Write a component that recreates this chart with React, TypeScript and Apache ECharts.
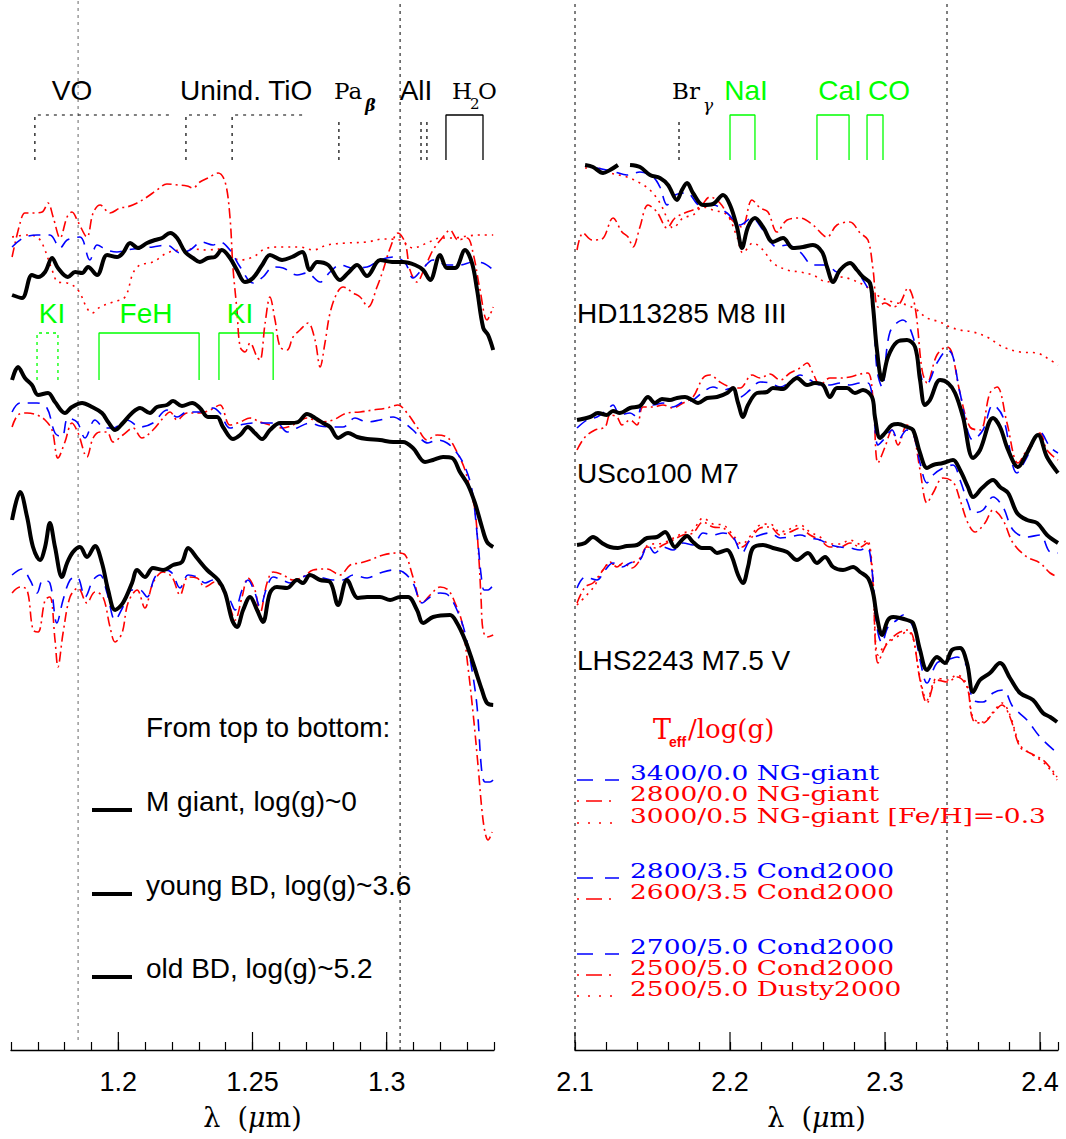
import React, { useEffect, useRef } from "react";
import * as echarts from "echarts";

// ---------- axis ticks ----------
const LEFT_MAJOR = [1.2, 1.25, 1.3];
const LEFT_TICK_LABELS = ["1.2", "1.25", "1.3"];
const RIGHT_MAJOR = [2.1, 2.2, 2.3, 2.4];
const RIGHT_TICK_LABELS = ["2.1", "2.2", "2.3", "2.4"];

// reference (dotted) wavelengths
const LEFT_REF = [1.185, 1.305];
const RIGHT_REF = [2.1, 2.34];

// feature bands (wavelength, micron)
const VO_BAND = [1.1689, 1.22];
const UNIND_BAND = [1.2252, 1.2372];
const TIO_BAND = [1.2424, 1.2688];
const PAB_LINE = [1.2822];
const ALI_LINES = [1.3128, 1.315];
const H2O_BAND = [1.3221, 1.3359];
const KI_DOUBLET_1 = [1.1697, 1.1775];
const FEH_BAND = [1.1928, 1.2301];
const KI_DOUBLET_2 = [1.2375, 1.2577];
const BRG_LINE = [2.1671];
const NAI_BAND = [2.2, 2.2161];
const CAI_BAND = [2.2561, 2.2768];
const CO_BAND = [2.2884, 2.2987];

// ---------- J band spectra (normalised flux + offset) ----------
const L_GIANT_OBS = [[1.1604,7.55],[1.1641,7.52],[1.1678,7.75],[1.1701,7.73],[1.1727,7.78],[1.1753,7.92],[1.1775,7.82],[1.1812,7.73],[1.1839,7.78],[1.1865,7.77],[1.1887,7.83],[1.1921,7.75],[1.1958,7.95],[1.1995,7.93],[1.2017,7.97],[1.2044,8.07],[1.2073,8.02],[1.2107,8.07],[1.2137,8.10],[1.2163,8.12],[1.2193,8.17],[1.2219,8.12],[1.2249,7.98],[1.2278,7.92],[1.2304,7.88],[1.2334,7.92],[1.2360,7.93],[1.2386,8.00],[1.2416,7.92],[1.2442,7.80],[1.2472,7.68],[1.2502,7.72],[1.2536,7.85],[1.2565,7.95],[1.2610,7.90],[1.2647,7.93],[1.2685,7.98],[1.2714,7.80],[1.2741,7.88],[1.2782,7.85],[1.2826,7.70],[1.2856,7.77],[1.2890,7.85],[1.2927,7.74],[1.2976,7.90],[1.3020,7.88],[1.3061,7.88],[1.3106,7.85],[1.3136,7.80],[1.3162,7.70],[1.3199,7.95],[1.3225,7.82],[1.3255,7.82],[1.3292,8.00],[1.3318,7.87],[1.3337,7.60],[1.3360,7.22],[1.3378,7.15],[1.3397,7.00]];
const L_GIANT_NG3400 = [[1.1604,8.03],[1.1645,8.12],[1.1697,8.15],[1.1745,8.15],[1.1783,8.02],[1.1809,8.10],[1.1857,8.13],[1.1894,7.90],[1.1921,8.05],[1.1958,8.00],[1.1995,7.98],[1.2032,8.00],[1.2081,8.02],[1.2129,8.03],[1.2181,8.05],[1.2230,7.97],[1.2267,8.00],[1.2312,8.08],[1.2353,8.05],[1.2379,8.08],[1.2416,8.00],[1.2454,7.83],[1.2502,7.67],[1.2539,7.73],[1.2577,7.83],[1.2614,7.82],[1.2666,7.75],[1.2703,7.77],[1.2752,7.68],[1.2789,7.78],[1.2826,7.85],[1.2875,7.82],[1.2927,7.83],[1.2975,7.90],[1.3024,7.93],[1.3069,7.87],[1.3098,7.72],[1.3136,7.82],[1.3173,7.90],[1.3225,7.85],[1.3273,7.85],[1.3322,7.88],[1.3359,7.87],[1.3397,7.80]];
const L_GIANT_NG2800 = [[1.1604,7.93],[1.1634,8.27],[1.1652,8.37],[1.1682,8.37],[1.1716,8.38],[1.1738,8.47],[1.1757,8.33],[1.1783,8.12],[1.1809,8.33],[1.1827,8.38],[1.1850,8.28],[1.1883,8.13],[1.1906,8.37],[1.1932,8.45],[1.1969,8.37],[1.2006,8.42],[1.2032,8.43],[1.2070,8.47],[1.2107,8.53],[1.2144,8.60],[1.2181,8.66],[1.2222,8.65],[1.2256,8.64],[1.2278,8.62],[1.2304,8.68],[1.2334,8.72],[1.2372,8.77],[1.2398,8.68],[1.2416,8.33],[1.2427,7.83],[1.2442,7.40],[1.2454,7.03],[1.2472,6.98],[1.2491,7.07],[1.2517,6.93],[1.2528,6.90],[1.2547,7.27],[1.2565,7.53],[1.2584,7.30],[1.2603,7.03],[1.2629,7.00],[1.2651,7.13],[1.2677,7.20],[1.2707,7.27],[1.2733,7.10],[1.2752,6.83],[1.2770,7.07],[1.2789,7.37],[1.2815,7.57],[1.2838,7.63],[1.2875,7.57],[1.2901,7.53],[1.2931,7.43],[1.2964,7.63],[1.2987,7.80],[1.3013,8.02],[1.3042,8.17],[1.3069,8.07],[1.3087,7.80],[1.3113,7.68],[1.3143,7.83],[1.3173,8.00],[1.3210,8.13],[1.3236,8.20],[1.3266,8.10],[1.3300,8.12],[1.3322,7.97],[1.3348,7.60],[1.3374,7.30],[1.3397,7.43]];
const L_GIANT_NG3000 = [[1.1604,8.13],[1.1660,8.15],[1.1697,8.13],[1.1719,8.05],[1.1753,7.80],[1.1775,7.68],[1.1809,7.67],[1.1839,7.63],[1.1857,7.57],[1.1883,7.42],[1.1902,7.37],[1.1932,7.43],[1.1980,7.48],[1.2025,7.53],[1.2055,7.77],[1.2081,7.85],[1.2129,7.88],[1.2181,7.97],[1.2230,8.00],[1.2278,8.01],[1.2331,8.00],[1.2379,8.01],[1.2416,7.94],[1.2454,7.90],[1.2502,7.93],[1.2554,8.02],[1.2614,8.03],[1.2677,8.03],[1.2726,8.00],[1.2778,8.05],[1.2852,8.07],[1.2927,8.08],[1.2987,8.11],[1.3050,8.10],[1.3098,8.02],[1.3151,8.07],[1.3199,8.12],[1.3247,8.12],[1.3300,8.14],[1.3348,8.15],[1.3397,8.15]];

const L_YOUNG_OBS = [[1.1604,6.70],[1.1626,6.83],[1.1652,6.72],[1.1678,6.65],[1.1701,6.55],[1.1738,6.57],[1.1764,6.48],[1.1801,6.37],[1.1827,6.43],[1.1865,6.47],[1.1902,6.43],[1.1939,6.37],[1.1962,6.28],[1.1988,6.20],[1.2017,6.27],[1.2051,6.37],[1.2081,6.42],[1.2118,6.37],[1.2144,6.43],[1.2181,6.45],[1.2204,6.49],[1.2237,6.44],[1.2275,6.47],[1.2304,6.42],[1.2334,6.33],[1.2368,6.33],[1.2390,6.23],[1.2427,6.11],[1.2454,6.15],[1.2483,6.23],[1.2509,6.17],[1.2536,6.11],[1.2565,6.20],[1.2603,6.27],[1.2640,6.27],[1.2670,6.28],[1.2703,6.36],[1.2733,6.32],[1.2763,6.27],[1.2789,6.23],[1.2819,6.12],[1.2856,6.17],[1.2890,6.13],[1.2927,6.11],[1.2975,6.10],[1.3024,6.08],[1.3061,6.08],[1.3098,6.02],[1.3143,5.88],[1.3173,5.90],[1.3210,5.93],[1.3244,5.92],[1.3273,5.78],[1.3303,5.65],[1.3329,5.47],[1.3355,5.23],[1.3374,5.08],[1.3397,5.03]];
const L_YOUNG_C2800 = [[1.1604,6.38],[1.1634,6.47],[1.1697,6.47],[1.1734,6.42],[1.1764,6.17],[1.1790,6.13],[1.1812,6.32],[1.1846,6.28],[1.1876,6.12],[1.1913,6.30],[1.1950,6.22],[1.1980,6.22],[1.2032,6.30],[1.2081,6.23],[1.2129,6.27],[1.2181,6.40],[1.2219,6.33],[1.2256,6.38],[1.2304,6.38],[1.2353,6.42],[1.2379,6.37],[1.2416,6.22],[1.2454,6.25],[1.2502,6.27],[1.2554,6.27],[1.2591,6.27],[1.2629,6.18],[1.2666,6.22],[1.2714,6.27],[1.2752,6.24],[1.2800,6.23],[1.2837,6.23],[1.2882,6.32],[1.2927,6.28],[1.2975,6.30],[1.3024,6.33],[1.3061,6.28],[1.3098,6.20],[1.3154,6.07],[1.3188,6.10],[1.3225,6.07],[1.3262,5.97],[1.3292,5.83],[1.3318,5.60],[1.3341,5.05],[1.3352,4.75],[1.3363,4.60],[1.3378,4.60],[1.3397,4.65]];
const L_YOUNG_C2600 = [[1.1604,6.23],[1.1626,6.35],[1.1660,6.37],[1.1697,6.35],[1.1727,6.30],[1.1753,6.20],[1.1775,5.92],[1.1801,6.08],[1.1827,6.27],[1.1850,6.17],[1.1883,5.93],[1.1906,6.12],[1.1932,6.18],[1.1958,6.18],[1.1980,6.08],[1.2017,6.15],[1.2055,6.22],[1.2088,6.12],[1.2129,6.20],[1.2167,6.32],[1.2193,6.38],[1.2219,6.30],[1.2256,6.37],[1.2304,6.37],[1.2342,6.40],[1.2379,6.45],[1.2416,6.25],[1.2454,6.28],[1.2491,6.32],[1.2528,6.28],[1.2565,6.25],[1.2614,6.22],[1.2651,6.25],[1.2703,6.32],[1.2752,6.28],[1.2800,6.30],[1.2852,6.37],[1.2901,6.38],[1.2949,6.40],[1.3001,6.42],[1.3042,6.45],[1.3076,6.37],[1.3113,6.23],[1.3151,6.10],[1.3188,6.15],[1.3229,6.12],[1.3262,5.98],[1.3292,5.80],[1.3311,5.60],[1.3329,5.40],[1.3344,4.90],[1.3352,4.50],[1.3359,4.20],[1.3374,4.13],[1.3397,4.15]];

const L_OLD_OBS = [[1.1604,5.30],[1.1634,5.58],[1.1660,5.33],[1.1682,5.03],[1.1708,4.90],[1.1727,5.03],[1.1745,5.27],[1.1764,5.03],[1.1790,4.73],[1.1809,4.87],[1.1831,4.98],[1.1857,5.03],[1.1883,4.93],[1.1913,5.04],[1.1939,4.87],[1.1962,4.60],[1.1988,4.40],[1.2017,4.47],[1.2051,4.67],[1.2070,4.80],[1.2099,4.73],[1.2129,4.82],[1.2167,4.80],[1.2204,4.85],[1.2237,4.88],[1.2260,5.02],[1.2293,4.92],[1.2331,4.80],[1.2372,4.70],[1.2398,4.57],[1.2424,4.30],[1.2442,4.23],[1.2465,4.40],[1.2491,4.53],[1.2517,4.40],[1.2539,4.28],[1.2565,4.57],[1.2591,4.63],[1.2629,4.62],[1.2666,4.70],[1.2688,4.67],[1.2714,4.75],[1.2752,4.70],[1.2789,4.68],[1.2819,4.45],[1.2852,4.70],[1.2893,4.52],[1.2927,4.53],[1.2975,4.53],[1.3013,4.50],[1.3050,4.53],[1.3080,4.53],[1.3113,4.40],[1.3136,4.27],[1.3173,4.33],[1.3236,4.35],[1.3262,4.27],[1.3292,4.10],[1.3322,3.87],[1.3355,3.60],[1.3374,3.47],[1.3397,3.45]];
const L_OLD_C2700 = [[1.1604,4.75],[1.1641,4.81],[1.1671,4.70],[1.1697,4.57],[1.1719,4.70],[1.1745,4.67],[1.1771,4.27],[1.1794,4.50],[1.1820,4.70],[1.1846,4.73],[1.1876,4.53],[1.1906,4.70],[1.1932,4.75],[1.1958,4.57],[1.1988,4.30],[1.2017,4.43],[1.2051,4.60],[1.2081,4.60],[1.2107,4.53],[1.2137,4.73],[1.2174,4.80],[1.2200,4.77],[1.2230,4.62],[1.2260,4.75],[1.2293,4.73],[1.2323,4.67],[1.2353,4.70],[1.2386,4.63],[1.2416,4.50],[1.2435,4.40],[1.2461,4.60],[1.2483,4.70],[1.2509,4.57],[1.2528,4.43],[1.2554,4.63],[1.2577,4.73],[1.2610,4.70],[1.2640,4.67],[1.2677,4.72],[1.2714,4.75],[1.2763,4.72],[1.2800,4.70],[1.2837,4.70],[1.2875,4.75],[1.2927,4.72],[1.2975,4.77],[1.3024,4.80],[1.3061,4.78],[1.3098,4.67],[1.3132,4.47],[1.3162,4.53],[1.3199,4.57],[1.3229,4.55],[1.3262,4.40],[1.3292,4.17],[1.3318,3.80],[1.3337,3.43],[1.3355,2.77],[1.3367,2.68],[1.3385,2.68],[1.3397,2.70]];
const L_OLD_C2500 = [[1.1604,4.57],[1.1634,4.63],[1.1660,4.60],[1.1682,4.20],[1.1701,4.18],[1.1727,4.50],[1.1745,4.53],[1.1764,4.10],[1.1775,3.83],[1.1794,4.17],[1.1820,4.53],[1.1850,4.62],[1.1883,4.47],[1.1913,4.58],[1.1943,4.53],[1.1969,4.23],[1.1988,4.08],[1.2014,4.17],[1.2036,4.47],[1.2070,4.60],[1.2099,4.42],[1.2129,4.67],[1.2167,4.78],[1.2200,4.73],[1.2230,4.55],[1.2260,4.73],[1.2293,4.72],[1.2323,4.63],[1.2360,4.68],[1.2390,4.60],[1.2416,4.43],[1.2435,4.30],[1.2461,4.53],[1.2483,4.72],[1.2509,4.60],[1.2528,4.37],[1.2554,4.67],[1.2577,4.78],[1.2614,4.75],[1.2651,4.70],[1.2688,4.73],[1.2726,4.80],[1.2778,4.81],[1.2826,4.75],[1.2864,4.85],[1.2901,4.87],[1.2938,4.90],[1.2987,4.95],[1.3039,4.97],[1.3069,4.95],[1.3098,4.73],[1.3132,4.47],[1.3162,4.55],[1.3199,4.63],[1.3229,4.60],[1.3255,4.47],[1.3281,4.27],[1.3303,3.83],[1.3322,3.37],[1.3341,2.83],[1.3355,2.40],[1.3367,2.17],[1.3378,2.10],[1.3393,2.18]];

// ---------- K band spectra ----------
const R_GIANT_OBS = [[2.1065,8.85],[2.1116,8.83],[2.1181,8.77],[2.1226,8.80],[2.1277,8.85],[2.1316,null],[2.1355,8.85],[2.1419,8.83],[2.1484,8.75],[2.1548,8.72],[2.1600,8.65],[2.1658,8.50],[2.1690,8.60],[2.1723,8.67],[2.1761,8.57],[2.1826,8.45],[2.1890,8.46],[2.1955,8.55],[2.2000,8.45],[2.2045,8.23],[2.2077,8.02],[2.2116,8.23],[2.2161,8.32],[2.2213,8.23],[2.2277,8.08],[2.2342,8.12],[2.2406,8.02],[2.2471,8.03],[2.2535,8.05],[2.2594,7.98],[2.2626,7.83],[2.2665,7.68],[2.2710,7.80],[2.2774,7.87],[2.2819,7.80],[2.2858,7.73],[2.2903,7.67],[2.2923,7.43],[2.2948,7.00],[2.2981,6.70],[2.3019,6.93],[2.3077,7.08],[2.3142,7.10],[2.3194,7.03],[2.3226,6.70],[2.3258,6.45],[2.3290,6.50],[2.3355,6.70],[2.3406,6.67],[2.3452,6.57],[2.3503,6.33],[2.3568,5.92],[2.3613,6.00],[2.3697,6.32],[2.3742,6.23],[2.3794,6.00],[2.3858,5.83],[2.3916,5.97],[2.3987,6.15],[2.4045,5.93],[2.4116,5.77]];
const R_GIANT_NG3400 = [[2.1142,8.82],[2.1258,8.78],[2.1335,8.75],[2.1419,8.78],[2.1503,8.73],[2.1548,8.63],[2.1594,8.45],[2.1645,8.55],[2.1723,8.57],[2.1806,8.45],[2.1890,8.45],[2.1981,8.37],[2.2065,8.25],[2.2142,8.32],[2.2213,8.20],[2.2303,8.03],[2.2368,8.05],[2.2452,7.98],[2.2535,7.85],[2.2626,7.85],[2.2690,7.78],[2.2774,7.87],[2.2858,7.70],[2.2916,7.50],[2.2948,6.80],[2.2981,6.63],[2.3032,7.18],[2.3116,7.30],[2.3181,7.13],[2.3239,6.70],[2.3271,6.67],[2.3335,6.87],[2.3406,7.00],[2.3439,6.93],[2.3484,6.57],[2.3568,6.10],[2.3632,6.20],[2.3697,6.45],[2.3761,6.33],[2.3852,5.77],[2.3916,5.93],[2.4000,6.18],[2.4065,6.03],[2.4116,5.97]];
const R_GIANT_NG2800 = [[2.1013,8.00],[2.1052,8.17],[2.1110,8.10],[2.1174,8.11],[2.1245,8.32],[2.1303,8.18],[2.1342,8.13],[2.1374,8.03],[2.1419,8.23],[2.1471,8.45],[2.1529,8.38],[2.1594,8.22],[2.1645,8.32],[2.1723,8.38],[2.1806,8.43],[2.1871,8.53],[2.1935,8.47],[2.2000,8.32],[2.2077,8.23],[2.2142,8.50],[2.2194,8.42],[2.2245,8.38],[2.2303,8.18],[2.2368,8.30],[2.2452,8.32],[2.2535,8.25],[2.2626,8.13],[2.2690,8.25],[2.2774,8.28],[2.2839,8.17],[2.2890,8.10],[2.2923,7.80],[2.2955,7.43],[2.3000,7.47],[2.3052,7.43],[2.3097,7.47],[2.3148,7.62],[2.3194,7.43],[2.3239,6.80],[2.3271,6.67],[2.3335,6.95],[2.3400,7.03],[2.3432,6.97],[2.3484,6.57],[2.3548,6.23],[2.3613,6.20],[2.3677,6.57],[2.3723,6.63],[2.3787,6.27],[2.3858,5.87],[2.3916,6.00],[2.4000,6.17],[2.4045,6.00],[2.4116,5.90]];
const R_GIANT_NG3000 = [[2.1065,8.82],[2.1142,8.82],[2.1226,8.77],[2.1335,8.73],[2.1419,8.67],[2.1484,8.60],[2.1548,8.47],[2.1594,8.32],[2.1632,8.22],[2.1697,8.32],[2.1761,8.35],[2.1826,8.43],[2.1890,8.40],[2.1981,8.35],[2.2045,8.13],[2.2084,7.97],[2.2148,8.07],[2.2213,8.00],[2.2277,7.87],[2.2368,7.80],[2.2452,7.78],[2.2535,7.75],[2.2626,7.68],[2.2710,7.73],[2.2794,7.70],[2.2884,7.63],[2.2968,7.53],[2.3052,7.48],[2.3142,7.45],[2.3206,7.40],[2.3271,7.32],[2.3355,7.28],[2.3419,7.23],[2.3484,7.20],[2.3568,7.18],[2.3658,7.13],[2.3761,7.03],[2.3871,6.98],[2.3981,6.97],[2.4045,6.92],[2.4116,6.85]];

const R_YOUNG_OBS = [[2.1013,6.30],[2.1097,6.33],[2.1148,6.37],[2.1206,6.35],[2.1245,6.39],[2.1290,6.37],[2.1355,6.42],[2.1419,6.44],[2.1471,6.53],[2.1516,6.47],[2.1561,6.51],[2.1613,6.50],[2.1658,6.52],[2.1710,6.53],[2.1755,6.50],[2.1794,6.47],[2.1852,6.52],[2.1916,6.53],[2.1981,6.57],[2.2019,6.62],[2.2052,6.47],[2.2084,6.33],[2.2116,6.45],[2.2174,6.57],[2.2239,6.58],[2.2277,6.62],[2.2342,6.61],[2.2387,6.67],[2.2432,6.72],[2.2497,6.65],[2.2548,6.67],[2.2600,6.65],[2.2645,6.53],[2.2690,6.62],[2.2755,6.62],[2.2806,6.57],[2.2858,6.60],[2.2916,6.53],[2.2935,6.33],[2.2968,6.12],[2.3000,6.17],[2.3045,6.25],[2.3084,6.26],[2.3142,6.23],[2.3181,6.20],[2.3226,5.97],[2.3271,5.82],[2.3310,5.85],[2.3374,5.87],[2.3439,5.90],[2.3484,5.80],[2.3535,5.63],[2.3568,5.53],[2.3626,5.62],[2.3697,5.70],[2.3742,5.63],[2.3794,5.57],[2.3852,5.37],[2.3916,5.30],[2.3981,5.27],[2.4045,5.15],[2.4116,5.07]];
const R_YOUNG_C2800 = [[2.1013,6.22],[2.1077,6.30],[2.1142,6.33],[2.1206,6.40],[2.1245,6.45],[2.1290,6.35],[2.1355,6.37],[2.1400,6.33],[2.1439,6.47],[2.1503,6.45],[2.1568,6.47],[2.1632,6.43],[2.1697,6.48],[2.1761,6.50],[2.1826,6.58],[2.1890,6.63],[2.1955,6.60],[2.2013,6.62],[2.2065,6.53],[2.2129,6.60],[2.2194,6.68],[2.2258,6.67],[2.2323,6.63],[2.2387,6.68],[2.2452,6.75],[2.2516,6.70],[2.2581,6.65],[2.2645,6.65],[2.2710,6.67],[2.2774,6.65],[2.2839,6.67],[2.2890,6.67],[2.2923,6.47],[2.2955,6.05],[2.3000,6.12],[2.3045,6.20],[2.3084,6.10],[2.3142,6.20],[2.3181,6.17],[2.3226,5.87],[2.3271,5.67],[2.3310,5.75],[2.3374,5.82],[2.3439,5.85],[2.3484,5.70],[2.3535,5.47],[2.3568,5.37],[2.3632,5.40],[2.3697,5.53],[2.3761,5.43],[2.3826,5.20],[2.3916,5.13],[2.4000,5.15],[2.4065,4.98],[2.4116,4.97]];
const R_YOUNG_C2600 = [[2.1013,6.00],[2.1065,6.13],[2.1129,6.20],[2.1194,6.23],[2.1226,6.35],[2.1271,6.33],[2.1303,6.25],[2.1355,6.30],[2.1400,6.25],[2.1439,6.43],[2.1503,6.43],[2.1568,6.45],[2.1632,6.42],[2.1697,6.47],[2.1761,6.53],[2.1826,6.72],[2.1871,6.75],[2.1935,6.68],[2.2000,6.63],[2.2065,6.62],[2.2142,6.75],[2.2194,6.72],[2.2258,6.76],[2.2323,6.70],[2.2387,6.77],[2.2452,6.82],[2.2497,6.87],[2.2535,6.77],[2.2581,6.65],[2.2645,6.72],[2.2710,6.72],[2.2774,6.73],[2.2839,6.76],[2.2890,6.77],[2.2923,6.50],[2.2955,5.87],[2.3000,6.03],[2.3045,6.20],[2.3084,6.05],[2.3142,6.25],[2.3181,6.18],[2.3226,5.80],[2.3271,5.47],[2.3310,5.57],[2.3374,5.72],[2.3439,5.68],[2.3484,5.50],[2.3535,5.27],[2.3581,5.18],[2.3645,5.27],[2.3697,5.40],[2.3761,5.30],[2.3826,5.07],[2.3916,4.93],[2.4000,4.87],[2.4065,4.77],[2.4116,4.73]];

const R_OLD_OBS = [[2.1013,5.05],[2.1065,5.07],[2.1116,5.13],[2.1174,5.07],[2.1226,5.03],[2.1277,5.02],[2.1335,5.04],[2.1400,5.05],[2.1465,5.12],[2.1529,5.13],[2.1581,5.18],[2.1645,5.03],[2.1690,5.10],[2.1723,5.14],[2.1761,5.08],[2.1819,5.02],[2.1871,5.02],[2.1916,4.97],[2.1981,5.00],[2.2013,4.93],[2.2052,4.75],[2.2084,4.67],[2.2116,4.83],[2.2148,5.02],[2.2213,5.05],[2.2277,5.02],[2.2368,4.98],[2.2432,4.90],[2.2503,4.97],[2.2561,4.87],[2.2613,4.93],[2.2665,4.83],[2.2729,4.80],[2.2794,4.83],[2.2839,4.78],[2.2890,4.72],[2.2923,4.57],[2.2948,4.33],[2.2981,4.15],[2.3019,4.30],[2.3052,4.33],[2.3097,4.32],[2.3142,4.30],[2.3181,4.27],[2.3226,4.00],[2.3271,3.80],[2.3335,3.93],[2.3387,3.87],[2.3432,4.00],[2.3484,4.02],[2.3529,3.87],[2.3568,3.58],[2.3613,3.70],[2.3677,3.77],[2.3742,3.87],[2.3806,3.72],[2.3871,3.57],[2.3955,3.50],[2.4019,3.37],[2.4065,3.33],[2.4110,3.28]];
const R_OLD_C2700 = [[2.1013,4.62],[2.1065,4.73],[2.1142,4.70],[2.1194,4.80],[2.1245,4.87],[2.1303,4.83],[2.1355,4.87],[2.1419,4.90],[2.1471,5.05],[2.1516,4.97],[2.1568,5.03],[2.1632,5.00],[2.1697,5.07],[2.1761,5.05],[2.1826,5.17],[2.1890,5.15],[2.1955,5.17],[2.2019,5.13],[2.2077,4.97],[2.2129,5.10],[2.2194,5.15],[2.2258,5.17],[2.2323,5.12],[2.2387,5.13],[2.2452,5.15],[2.2516,5.12],[2.2581,5.10],[2.2645,5.05],[2.2710,5.03],[2.2774,5.02],[2.2839,5.00],[2.2884,5.03],[2.2916,4.80],[2.2948,4.23],[2.2981,4.07],[2.3019,4.23],[2.3077,4.30],[2.3116,4.35],[2.3181,4.23],[2.3226,3.90],[2.3271,3.67],[2.3335,3.87],[2.3400,3.90],[2.3465,3.93],[2.3529,3.83],[2.3568,3.50],[2.3632,3.48],[2.3697,3.57],[2.3761,3.60],[2.3826,3.43],[2.3916,3.30],[2.4000,3.13],[2.4110,2.97]];
const R_OLD_C2500 = [[2.1013,4.47],[2.1065,4.63],[2.1116,4.67],[2.1181,4.80],[2.1226,4.88],[2.1271,4.83],[2.1310,4.87],[2.1368,4.82],[2.1419,4.90],[2.1465,5.03],[2.1529,5.02],[2.1568,5.05],[2.1632,5.10],[2.1697,5.15],[2.1761,5.17],[2.1826,5.28],[2.1890,5.23],[2.1955,5.22],[2.2019,5.12],[2.2077,5.03],[2.2142,5.13],[2.2194,5.22],[2.2258,5.23],[2.2323,5.15],[2.2387,5.18],[2.2452,5.22],[2.2516,5.15],[2.2581,5.10],[2.2645,5.03],[2.2710,5.03],[2.2774,5.07],[2.2839,5.03],[2.2884,5.07],[2.2916,4.80],[2.2955,3.87],[2.3000,4.03],[2.3045,4.12],[2.3097,4.18],[2.3148,4.20],[2.3181,4.13],[2.3226,3.70],[2.3271,3.47],[2.3335,3.70],[2.3400,3.68],[2.3465,3.73],[2.3529,3.63],[2.3568,3.30],[2.3632,3.27],[2.3697,3.37],[2.3755,3.45],[2.3806,3.33],[2.3871,3.03],[2.3935,2.97],[2.4019,2.90],[2.4077,2.80],[2.4110,2.73]];
const R_OLD_D2500 = [[2.1013,4.45],[2.1116,4.62],[2.1226,4.86],[2.1310,4.85],[2.1419,4.92],[2.1471,5.05],[2.1568,5.07],[2.1697,5.17],[2.1761,5.20],[2.1826,5.32],[2.1890,5.26],[2.1955,5.25],[2.2019,5.15],[2.2077,5.06],[2.2142,5.16],[2.2194,5.25],[2.2258,5.26],[2.2323,5.18],[2.2387,5.21],[2.2452,5.25],[2.2516,5.18],[2.2581,5.13],[2.2645,5.06],[2.2710,5.06],[2.2774,5.10],[2.2839,5.06],[2.2884,5.10],[2.2916,4.85],[2.2955,3.95],[2.3000,4.05],[2.3045,4.10],[2.3097,4.15],[2.3148,4.18],[2.3181,4.12],[2.3226,3.72],[2.3271,3.50],[2.3335,3.72],[2.3400,3.70],[2.3465,3.75],[2.3529,3.65],[2.3568,3.32],[2.3632,3.28],[2.3697,3.38],[2.3755,3.47],[2.3806,3.35],[2.3871,3.05],[2.3935,2.97],[2.4019,2.88],[2.4077,2.78],[2.4110,2.70]];

const LEGEND_MODELS = [
  "3400/0.0 NG-giant",
  "2800/0.0 NG-giant",
  "3000/0.5 NG-giant [Fe/H]=-0.3",
  "2800/3.5 Cond2000",
  "2600/3.5 Cond2000",
  "2700/5.0 Cond2000",
  "2500/5.0 Cond2000",
  "2500/5.0 Dusty2000",
];
const LEGEND_OBJECTS = ["M giant, log(g)~0", "young BD, log(g)~3.6", "old BD, log(g)~5.2"];
const STAR_NAMES = ["HD113285 M8 III", "USco100 M7", "LHS2243 M7.5 V"];

// ---------- styles ----------
const BLUE = "#0000ff";
const RED = "#ff0000";
const GREEN = "#00ff00";
const DASH = [12, 8];
const DASHDOT = [10, 4, 2, 4];
const DOT = [2, 5];
const SANS = '"Liberation Sans", Arial, sans-serif';
const SERIF = '"DejaVu Serif", serif';

function spec(data: any[], xi: number, color: string, width: number, type: any, z: number) {
  return {
    type: "line", xAxisIndex: xi, yAxisIndex: xi, data, symbol: "none", showSymbol: false,
    smooth: 0.35, clip: false, silent: true, z, connectNulls: false,
    lineStyle: { color, width, type, cap: "butt", join: "round" },
  };
}
function seg(coords: number[][], xi: number, color: string, type: any, width = 1.2) {
  return {
    type: "line", xAxisIndex: xi, yAxisIndex: xi, data: coords, symbol: "none", showSymbol: false,
    smooth: false, clip: false, silent: true, z: 3, lineStyle: { color, width, type },
  };
}
function txt(text: string, x: number, y: number, font: string, fill = "#000", align = "left", scaleX = 1) {
  return { type: "text", x, y, scaleX, z: 50, silent: true,
    style: { text, fill, font, textAlign: align, align, textVerticalAlign: "middle", verticalAlign: "middle" } };
}
function gline(x1: number, y1: number, x2: number, y2: number, stroke: string, lineWidth: number, lineDash?: number[]) {
  return { type: "line", z: 50, silent: true, shape: { x1, y1, x2, y2 },
    style: { stroke, lineWidth, lineDash: lineDash || null } };
}

function buildOption() {
  const TOP_HI = 9.35, TOP_LO = 8.9, TOP_MID = 9.31;
  const G_HI = 7.17, G_LO = 6.7;
  const series: any[] = [];

  // reference dotted verticals
  series.push(seg([[LEFT_REF[0], 0.1], [LEFT_REF[0], 10.5]], 0, "#666", [3, 4], 1));
  series.push(seg([[LEFT_REF[1], 0], [LEFT_REF[1], 10.5]], 0, "#000", [3, 4], 1));
  series.push(seg([[RIGHT_REF[0], 0], [RIGHT_REF[0], 10.5]], 1, "#000", [3, 4], 1));
  series.push(seg([[RIGHT_REF[1], 0], [RIGHT_REF[1], 10.5]], 1, "#000", [3, 4], 1));

  // major ticks
  LEFT_MAJOR.forEach((v) => series.push(seg([[v, 0], [v, 0.18]], 0, "#000", "solid", 1.2)));
  RIGHT_MAJOR.forEach((v) => series.push(seg([[v, 0], [v, 0.18]], 1, "#000", "solid", 1.2)));

  // feature brackets (J)
  [VO_BAND, UNIND_BAND, TIO_BAND].forEach((b) =>
    series.push(seg([[b[0], TOP_LO], [b[0], TOP_HI], [b[1], TOP_HI]], 0, "#000", [3, 5], 1.2)));
  [...PAB_LINE, ...ALI_LINES].forEach((v) => series.push(seg([[v, TOP_LO], [v, TOP_MID]], 0, "#000", [3, 4], 1.2)));
  series.push(seg([[H2O_BAND[0], TOP_LO], [H2O_BAND[0], TOP_HI], [H2O_BAND[1], TOP_HI], [H2O_BAND[1], TOP_LO]], 0, "#000", "solid", 1.3));
  series.push(seg([[KI_DOUBLET_1[0], G_LO], [KI_DOUBLET_1[0], G_HI], [KI_DOUBLET_1[1], G_HI], [KI_DOUBLET_1[1], G_LO]], 0, GREEN, [3, 4], 1.3));
  [FEH_BAND, KI_DOUBLET_2].forEach((b) =>
    series.push(seg([[b[0], G_LO], [b[0], G_HI], [b[1], G_HI], [b[1], G_LO]], 0, GREEN, "solid", 1.3)));
  // feature brackets (K)
  series.push(seg([[BRG_LINE[0], TOP_LO], [BRG_LINE[0], 9.3]], 1, "#000", [3, 4], 1.2));
  [NAI_BAND, CAI_BAND, CO_BAND].forEach((b) =>
    series.push(seg([[b[0], TOP_LO], [b[0], TOP_HI], [b[1], TOP_HI], [b[1], TOP_LO]], 1, GREEN, "solid", 1.3)));

  // spectra J
  series.push(spec(L_GIANT_NG3000, 0, RED, 1.6, DOT, 10));
  series.push(spec(L_GIANT_NG2800, 0, RED, 1.6, DASHDOT, 11));
  series.push(spec(L_GIANT_NG3400, 0, BLUE, 1.6, DASH, 12));
  series.push(spec(L_GIANT_OBS, 0, "#000", 4, "solid", 20));
  series.push(spec(L_YOUNG_C2600, 0, RED, 1.6, DASHDOT, 11));
  series.push(spec(L_YOUNG_C2800, 0, BLUE, 1.6, DASH, 12));
  series.push(spec(L_YOUNG_OBS, 0, "#000", 4, "solid", 20));
  series.push(spec(L_OLD_C2500, 0, RED, 1.6, DASHDOT, 11));
  series.push(spec(L_OLD_C2700, 0, BLUE, 1.6, DASH, 12));
  series.push(spec(L_OLD_OBS, 0, "#000", 4, "solid", 20));
  // spectra K
  series.push(spec(R_GIANT_NG3000, 1, RED, 1.6, DOT, 10));
  series.push(spec(R_GIANT_NG2800, 1, RED, 1.6, DASHDOT, 11));
  series.push(spec(R_GIANT_NG3400, 1, BLUE, 1.6, DASH, 12));
  series.push(spec(R_GIANT_OBS, 1, "#000", 4, "solid", 20));
  series.push(spec(R_YOUNG_C2600, 1, RED, 1.6, DASHDOT, 11));
  series.push(spec(R_YOUNG_C2800, 1, BLUE, 1.6, DASH, 12));
  series.push(spec(R_YOUNG_OBS, 1, "#000", 4, "solid", 20));
  series.push(spec(R_OLD_D2500, 1, RED, 1.6, DOT, 10));
  series.push(spec(R_OLD_C2500, 1, RED, 1.6, DASHDOT, 11));
  series.push(spec(R_OLD_C2700, 1, BLUE, 1.6, DASH, 12));
  series.push(spec(R_OLD_OBS, 1, "#000", 4, "solid", 20));

  const labelFor = (majors: number[], labels: string[]) => (v: number) => {
    const k = majors.findIndex((m) => Math.abs(m - v) < 1e-6);
    return k >= 0 ? labels[k] : "";
  };
  const xAxisBase = (gi: number, min: number, max: number, interval: number, majors: number[], labels: string[]) => ({
    gridIndex: gi, type: "value", min, max, interval,
    axisLine: { show: true, onZero: false, lineStyle: { color: "#000", width: 1.4 } },
    axisTick: { show: true, inside: true, length: 8, lineStyle: { color: "#000", width: 1.2 } },
    axisLabel: { show: true, margin: 18, fontSize: 27, fontFamily: SANS, color: "#000",
      showMinLabel: true, showMaxLabel: true, formatter: labelFor(majors, labels) },
    splitLine: { show: false },
    name: "λ  ({i|μ}m)", nameLocation: "middle", nameGap: 54,
    nameTextStyle: { fontFamily: SERIF, fontSize: 27, color: "#000",
      rich: { i: { fontFamily: SERIF, fontSize: 27, fontStyle: "italic", color: "#000" } } },
  });

  const LEG_Y = [772, 793, 815, 870, 891, 946, 967, 988];
  const LEG_COL = [BLUE, RED, RED, BLUE, RED, BLUE, RED, RED];
  const LEG_KIND = ["dash", "dashdot", "dot", "dash", "dashdot", "dash", "dashdot", "dot"];
  const g: any[] = [];
  // top labels
  g.push(txt("VO", 72, 90, `28px ${SANS}`, "#000", "center"));
  g.push(txt("Unind. TiO", 180, 90, `28px ${SANS}`));
  g.push(txt("Pa", 334, 91, `23px ${SERIF}`));
  g.push(txt("β", 365, 105, `italic bold 16px ${SERIF}`));
  g.push(txt("AlI", 416, 90, `28px ${SANS}`, "#000", "center"));
  g.push(txt("H", 452, 91, `23px ${SERIF}`));
  g.push(txt("2", 470, 104, `15px ${SERIF}`));
  g.push(txt("O", 478, 91, `23px ${SERIF}`));
  g.push(txt("Br", 672, 91, `23px ${SERIF}`));
  g.push(txt("γ", 703, 105, `italic 17px ${SERIF}`));
  g.push(txt("NaI", 746, 90, `28px ${SANS}`, GREEN, "center"));
  g.push(txt("CaI", 840, 90, `28px ${SANS}`, GREEN, "center"));
  g.push(txt("CO", 889, 90, `28px ${SANS}`, GREEN, "center"));
  g.push(txt("KI", 52, 313, `28px ${SANS}`, GREEN, "center"));
  g.push(txt("FeH", 146, 313, `28px ${SANS}`, GREEN, "center"));
  g.push(txt("KI", 240, 313, `28px ${SANS}`, GREEN, "center"));
  // star names
  [313, 473, 660].forEach((y, i) => g.push(txt(STAR_NAMES[i], 577, y, `28px ${SANS}`)));
  // left legend
  g.push(txt("From top to bottom:", 146, 727, `28px ${SANS}`));
  [801, 885, 968].forEach((y, i) => {
    g.push(txt(LEGEND_OBJECTS[i], 146, y, `28px ${SANS}`));
    g.push(gline(92, y + 9, 132, y + 9, "#000", 4));
  });
  // right legend
  g.push(txt("T", 653, 729, `27px ${SERIF}`, RED));
  g.push(txt("eff", 669, 742, `bold 14px ${SANS}`, RED));
  g.push(txt("/log(g)", 688, 729, `26px ${SERIF}`, RED));
  LEG_Y.forEach((y, i) => {
    const c = LEG_COL[i];
    const ly = y + 8;
    if (LEG_KIND[i] === "dash") g.push(gline(577, ly, 619, ly, c, 1.6, [16, 12]));
    else if (LEG_KIND[i] === "dashdot") g.push(gline(577, ly, 619, ly, c, 1.6, [2, 7, 16, 7, 2, 40]));
    else g.push(gline(577, ly, 619, ly, c, 1.6, [2, 9]));
    g.push(txt(LEGEND_MODELS[i], 630, y + 1, `21px ${SERIF}`, c, "left", 1.26));
  });

  return {
    animation: false,
    backgroundColor: "#ffffff",
    grid: [
      { left: 11, width: 483, top: 0, height: 1050, containLabel: false },
      { left: 575, width: 483, top: 0, height: 1050, containLabel: false },
    ],
    xAxis: [
      xAxisBase(0, 1.16, 1.34, 0.01, LEFT_MAJOR, LEFT_TICK_LABELS),
      xAxisBase(1, 2.1, 2.4116, 0.02, RIGHT_MAJOR, RIGHT_TICK_LABELS),
    ],
    yAxis: [
      { gridIndex: 0, type: "value", min: 0, max: 10.5, show: false },
      { gridIndex: 1, type: "value", min: 0, max: 10.5, show: false },
    ],
    series,
    graphic: { elements: g },
  };
}

export default function App() {
  const ref = useRef<HTMLDivElement>(null);
  useEffect(() => {
    document.body.style.margin = "0";
    const chart = echarts.init(ref.current as HTMLDivElement, null, { renderer: "svg" });
    chart.setOption(buildOption() as any);
    return () => chart.dispose();
  }, []);
  return (
    <div
      ref={ref}
      style={{ position: "absolute", left: 0, top: 0, width: 1066, height: 1139, background: "#fff" }}
    />
  );
}
